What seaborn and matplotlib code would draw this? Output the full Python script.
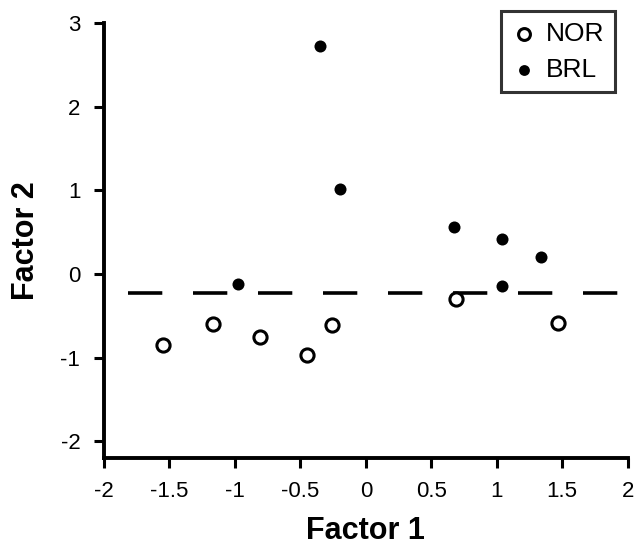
import pandas as pd
import seaborn as sns
import matplotlib.pyplot as plt

# factor scores
nor_f1 = [-1.55, -1.17, -0.81, -0.45, -0.26, 0.69, 1.47]
nor_f2 = [-0.85, -0.60, -0.76, -0.97, -0.61, -0.30, -0.59]
brl_f1 = [-0.98, -0.35, -0.20, 0.67, 1.04, 1.04, 1.34]
brl_f2 = [-0.12, 2.73, 1.02, 0.56, 0.42, -0.15, 0.20]
cutoff = -0.23

x_ticks = [-2, -1.5, -1, -0.5, 0, 0.5, 1, 1.5, 2]
y_ticks = [-2, -1, 0, 1, 2, 3]

nor = pd.DataFrame({'f1': nor_f1, 'f2': nor_f2})
brl = pd.DataFrame({'f1': brl_f1, 'f2': brl_f2})

sns.set_style('ticks')
plt.rcParams['font.family'] = ['Liberation Sans', 'DejaVu Sans']
plt.rcParams['axes.unicode_minus'] = False
plt.rcParams['text.color'] = 'black'
plt.rcParams['axes.labelcolor'] = 'black'

fig = plt.figure(figsize=(6.34, 5.49), dpi=100)
ax = fig.add_axes([0.164, 0.166, 0.826, 0.792])

ax.hlines(cutoff, -1.82, 1.96, colors='black', lw=2.6,
          linestyles=(0, (9.5, 8.5)), zorder=1)

sns.scatterplot(data=nor, x='f1', y='f2', ax=ax, marker='o', s=90,
                facecolor='white', edgecolor='black', linewidth=2.2,
                label='NOR', zorder=3)
sns.scatterplot(data=brl, x='f1', y='f2', ax=ax, marker='o', s=75,
                color='black', edgecolor='black', linewidth=0,
                label='BRL', zorder=3)

ax.set_xlim(-2, 2)
ax.set_ylim(-2.2, 3)
ax.set_xticks(x_ticks)
ax.set_xticklabels([f'{t:g}' for t in x_ticks])
ax.set_yticks(y_ticks)
ax.spines['top'].set_visible(False)
ax.spines['right'].set_visible(False)
for s in ['left', 'bottom']:
    ax.spines[s].set_linewidth(2.8)
    ax.spines[s].set_color('black')
ax.tick_params(direction='out', length=7, width=2.2, labelsize=16,
               colors='black', pad=10)

ax.set_xlabel('Factor 1', fontsize=22, fontweight='bold', labelpad=10)
ax.set_ylabel('Factor 2', fontsize=22, fontweight='bold', labelpad=14)

leg = ax.legend(loc='upper right', bbox_to_anchor=(0.975, 1.027), fontsize=19,
                frameon=True, fancybox=False, handletextpad=0.3,
                borderpad=0.4, labelspacing=0.45, handlelength=1.0,
                markerscale=0.9, borderaxespad=0)
leg.get_frame().set_edgecolor('black')
leg.get_frame().set_linewidth(2.2)

fig.savefig('out.png', dpi=100)
